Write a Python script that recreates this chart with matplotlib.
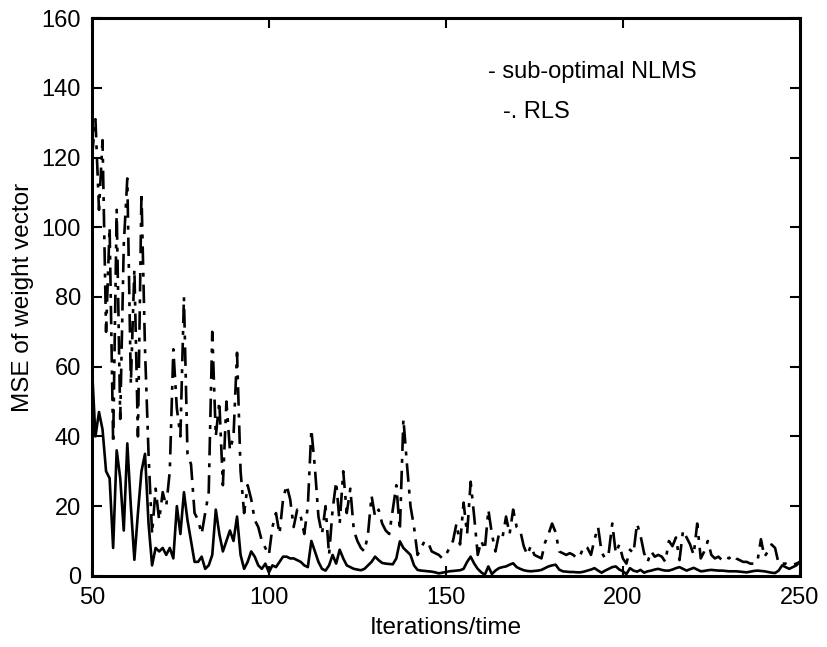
import matplotlib
matplotlib.use("Agg")
import matplotlib.pyplot as plt
import numpy as np

plt.rcParams['font.family'] = ['Liberation Sans', 'DejaVu Sans']

iters = np.arange(50, 251)

# sub-optimal NLMS (solid), one value per iteration 50..250
nlms = [60, 40, 47, 42, 30, 28, 8, 36, 28, 13,
        38, 20, 4.6, 18, 30, 35, 15, 3, 8, 7,
        8, 6, 8, 5, 20, 12, 24, 16, 10, 4,
        4, 5.5, 2, 3, 6, 19, 12, 7, 10, 13,
        10, 17, 6, 2, 4, 7, 5.5, 3, 2, 3.5,
        1, 3, 2.5, 4, 5.5, 5.5, 5, 5, 4.5, 4,
        3, 2.5, 10, 7, 4, 2, 1.5, 3, 6, 3.5,
        7.5, 5, 3, 2.5, 2, 1.8, 1.6, 2, 3, 4,
        5.5, 4.5, 3.7, 3.5, 3.4, 3.3, 5, 9.9, 8, 7,
        6, 3, 1.7, 1.5, 1.4, 1.3, 1.2, 1, 0.7, 0.9,
        1.1, 1.3, 1.4, 1.5, 1.6, 2, 4, 5.5, 3.5, 2,
        1, 0.3, 2.7, 0.5, 1.5, 2.2, 2.5, 2.7, 3.2, 3.6,
        2.5, 2, 1.6, 1.4, 1.3, 1.4, 1.5, 1.7, 2.2, 2.7,
        3, 3.2, 1.8, 1.3, 1.2, 1.1, 1.1, 1, 1, 1.2,
        1.5, 1.8, 2.2, 1.5, 0.9, 1.5, 2, 2.5, 2.7, 1.8,
        1.3, 0.5, 2.2, 1.5, 1.2, 1.7, 0.9, 1.3, 1.5, 1.8,
        2, 1.7, 1.5, 1.5, 1.8, 2.2, 2.5, 2, 1.5, 1.9,
        2.3, 1.8, 1.3, 1.4, 1.6, 1.7, 1.6, 1.5, 1.5, 1.4,
        1.3, 1.3, 1.3, 1.2, 1.1, 1, 1.2, 1.4, 1.5, 1.4,
        1.3, 1.1, 0.9, 0.8, 1.5, 3, 2.5, 2, 2.5, 3,
        4]

# RLS (dash-dot), one value per iteration 50..250
rls = [120, 131, 105, 125, 70, 100, 38, 105, 45, 95,
       114, 55, 88, 40, 110, 65, 35, 12, 25, 16,
       24, 20, 30, 65, 48, 40, 80, 35, 32, 18,
       16, 12, 18, 24, 70, 40, 50, 26, 50, 36,
       40, 64, 30, 18, 26, 22, 16, 14, 10, 8,
       6, 14, 18, 12, 22, 26, 22, 14, 19, 17,
       12, 20, 42, 31, 17, 12, 20, 6, 19, 27,
       15, 30, 18, 25, 13, 10, 8, 7, 12, 23,
       17, 19, 15, 13, 12, 19, 26, 13, 45, 32,
       20, 14, 6, 8, 10, 9.5, 7, 6.5, 6, 5,
       6, 8, 10, 15, 9, 21, 12, 27, 17, 6,
       10, 7.5, 19, 12, 7, 12, 11, 17, 12, 19,
       14, 13, 8.5, 6, 8.6, 6, 5.5, 5, 9.5, 12,
       15, 12.5, 7, 6.5, 6, 6.5, 6, 5, 6, 8.5,
       8, 6, 10.5, 14, 6.7, 5, 6.5, 15, 6.5, 9,
       5, 3.5, 7.5, 6.5, 15, 11.5, 6.5, 4, 7, 5.5,
       6, 5.5, 4, 10, 8.5, 11, 4.5, 13, 11, 9,
       6, 15, 5, 7, 10, 6, 5, 5.5, 4.5, 5.5,
       5, 6, 5, 4.5, 4, 4, 3.5, 3.5, 4, 10.5,
       5.5, 7, 9, 8, 3.5, 3.5, 3.5, 3, 3.2, 3.5,
       4]

fig = plt.figure(figsize=(8.28, 6.47), dpi=100)
ax = fig.add_axes([0.111, 0.110, 0.855, 0.862])

ax.plot(iters, nlms, color='black', lw=1.9, ls='-')
ax.plot(iters, rls, color='black', lw=1.9, dashes=(7, 3, 1.5, 3))

ax.text(162, 144.5, '- sub-optimal NLMS', fontsize=17, va='center')
ax.text(166, 133, '-. RLS', fontsize=17, va='center')

ax.set_xlim(50, 250)
ax.set_ylim(0, 160)
ax.set_xticks([50, 100, 150, 200, 250])
ax.set_yticks(range(0, 161, 20))
ax.tick_params(direction='in', length=7, width=1.5, top=True, right=True,
               labelsize=17, pad=8)
for s in ax.spines.values():
    s.set_linewidth(2.2)

ax.set_xlabel('Iterations/time', fontsize=17.5, labelpad=6)
ax.set_ylabel('MSE of weight vector', fontsize=17.5, labelpad=5)

fig.savefig('out.png', dpi=100)
